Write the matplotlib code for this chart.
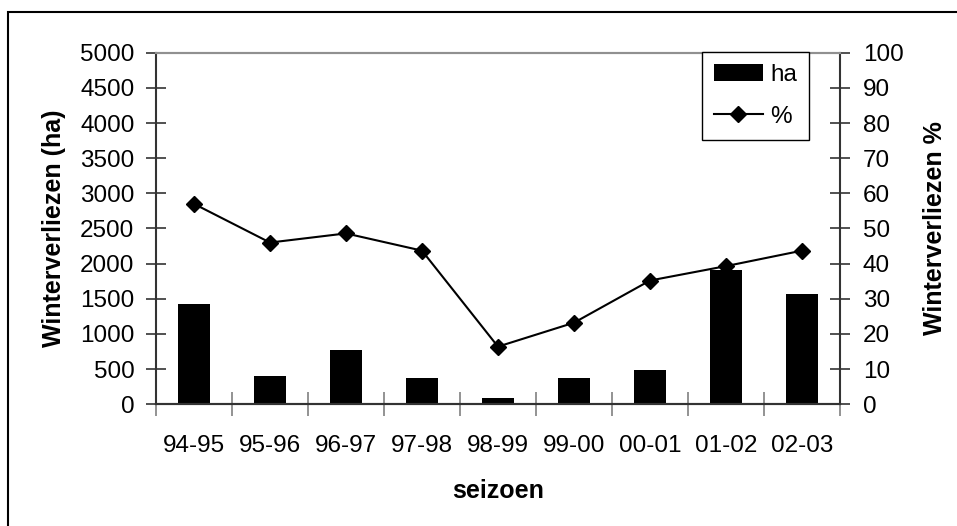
import matplotlib.pyplot as plt
from matplotlib.patches import Rectangle
from matplotlib.lines import Line2D
import numpy as np

plt.rcParams['font.family'] = ['Liberation Sans', 'DejaVu Sans']

seizoenen = ['94-95', '95-96', '96-97', '97-98', '98-99',
             '99-00', '00-01', '01-02', '02-03']
verlies_ha = [1430, 405, 775, 378, 90, 378, 488, 1912, 1573]
verlies_pct = [57.0, 46.0, 48.6, 43.7, 16.4, 23.2, 35.2, 39.3, 43.7]

axis_col = '#333333'
fs = 17.5

fig = plt.figure(figsize=(9.57, 5.26), dpi=100)
ax = fig.add_axes([0.163, 0.2314, 0.7147, 0.6684])
ax2 = ax.twinx()

pos = np.arange(len(seizoenen)) + 0.5
bars = ax.bar(pos, verlies_ha, width=0.41, color='black', zorder=2)
line, = ax2.plot(pos, verlies_pct, color='black', lw=1.5, marker='D',
                 markersize=8, zorder=3)

ax.set_xlim(0, len(seizoenen))
ax.set_ylim(0, 5000)
ax2.set_ylim(0, 100)
ax.set_yticks(np.arange(0, 5001, 500))
ax2.set_yticks(np.arange(0, 101, 10))

# category boundaries get the ticks, labels sit in between
ax.set_xticks(np.arange(len(seizoenen) + 1))
ax.set_xticklabels([])
ax.set_xticks(pos, minor=True)
ax.set_xticklabels(seizoenen, minor=True, fontsize=fs)
ax.tick_params(axis='x', which='major', direction='inout', length=17,
               width=1.2, color='#808080')
ax.tick_params(axis='x', which='minor', length=0, pad=22)
ax.tick_params(axis='y', direction='inout', length=15, width=1.2,
               color=axis_col, labelsize=fs, pad=8)
ax2.tick_params(axis='y', direction='inout', length=15, width=1.2,
                color=axis_col, labelsize=fs, pad=9)

for a in (ax, ax2):
    for s in ('left', 'right', 'bottom'):
        a.spines[s].set_color(axis_col)
        a.spines[s].set_linewidth(1.5)
    a.spines['top'].set_color('#909090')
    a.spines['top'].set_linewidth(1.5)
ax.spines['right'].set_visible(False)
ax2.spines['left'].set_visible(False)

ax.set_ylabel('Winterverliezen (ha)', fontsize=18, fontweight='bold',
              labelpad=10)
ax2.set_ylabel('Winterverliezen %', fontsize=18, fontweight='bold',
               labelpad=14)
ax.set_xlabel('seizoen', fontsize=18, fontweight='bold', labelpad=16)

handles = [bars,
           Line2D([], [], color='black', lw=1.5, marker='D', markersize=8)]
leg = ax2.legend(handles, ['ha', '%'], loc='upper left',
                 bbox_to_anchor=(702 / 957, 1 - 52 / 526),
                 bbox_transform=fig.transFigure, fontsize=fs,
                 frameon=True, fancybox=False, edgecolor='black',
                 framealpha=1, borderaxespad=0, borderpad=0.5,
                 handlelength=2.0, handletextpad=0.3, labelspacing=0.8)
leg.get_frame().set_linewidth(1.0)

# outer chart border
fig.patches.append(Rectangle((8 / 957, -0.1), 1.2, 1.1 - 12 / 526,
                             transform=fig.transFigure, fill=False,
                             edgecolor='black', lw=1.5))

fig.savefig('out.png', dpi=100)
